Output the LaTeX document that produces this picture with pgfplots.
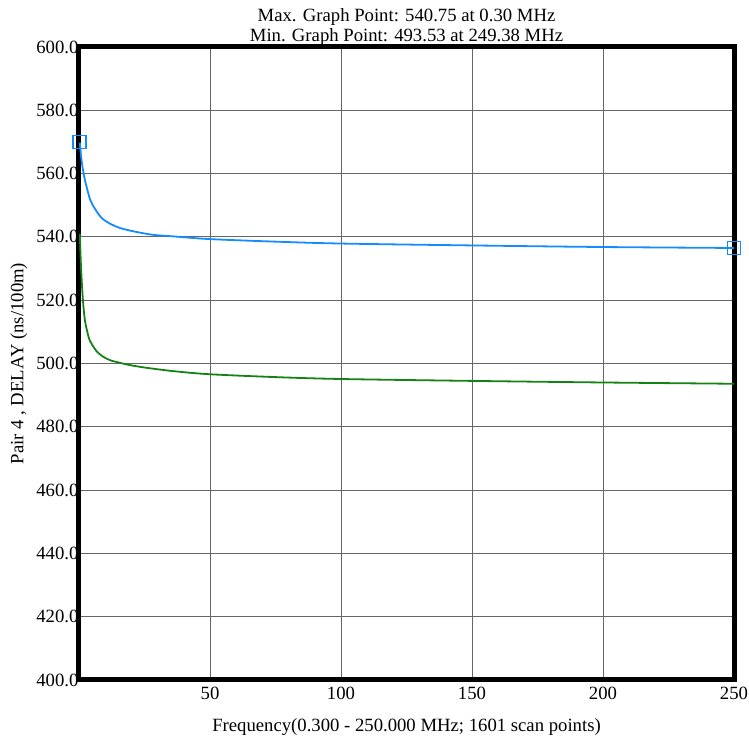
\documentclass[border=0pt]{standalone}
\usepackage{fontspec}
\setmainfont{Liberation Serif}
\usepackage{pgfplots}
\pgfplotsset{compat=1.18}
\definecolor{cblue}{RGB}{20,140,255}
\definecolor{cgreen}{RGB}{20,130,20}
\begin{document}
\begin{tikzpicture}
\begin{axis}[
  scale only axis,
  width=655pt, height=633pt,
  xmin=0, xmax=250, ymin=400, ymax=600,
  xtick={50,100,150,200,250},
  ytick={400,420,...,600},
  major tick length=0pt,
  grid=major,
  major grid style={black!60, line width=0.9pt},
  axis line style={line width=5pt},
  clip=false,
  font=\fontsize{18.7}{21}\selectfont,
  /pgf/number format/assume math mode=true,
  yticklabel style={/pgf/number format/fixed, /pgf/number format/fixed zerofill, /pgf/number format/precision=1, xshift=3pt},
  xticklabel style={yshift=-4pt},
  xlabel={Frequency(0.300 - 250.000 MHz; 1601 scan points)},
  ylabel={Pair 4 , DELAY (ns/100m)},
  xlabel style={at={(axis description cs:0.5,0)}, anchor=center, yshift=-47pt},
  ylabel style={at={(axis description cs:-0.0916,0.5)}, anchor=center},
  title={Max. Graph Point: 540.75 at 0.30 MHz\\Min. Graph Point: 493.53 at 249.38 MHz},
  title style={align=center, at={(axis description cs:0.5,1)}, anchor=south, yshift=-8pt, font=\fontsize{18.7}{20}\selectfont},
]
\addplot[cblue, line width=1.8pt, smooth] coordinates {
(0.3,569.8) (1,564) (2,559) (3,555.5) (4.3,551.7) (6,549) (9.3,545.5) (15.7,542.8) (27,540.8) (37,540.1) (50,539.3) (75,538.5) (100,537.9) (150,537.3) (200,536.8) (250,536.5)
};
\addplot[cgreen, line width=1.8pt, smooth] coordinates {
(0.3,541) (0.8,530) (1.5,520) (2.2,514) (3,510.6) (4,507.5) (5.5,505.3) (7,503.6) (9.3,502.1) (12,501) (15.7,500.2) (20,499.4) (27,498.5) (37,497.5) (50,496.6) (75,495.7) (100,495.1) (150,494.5) (200,494.0) (250,493.6)
};
\addplot[cblue, only marks, mark=square, mark size=6.5pt, line width=1.8pt] coordinates {(0.3,570) (250,536.5)};
\end{axis}
\pgfresetboundingbox
\path[use as bounding box] (-79pt,-58pt) rectangle (670pt,680pt);
\end{tikzpicture}
\end{document}
